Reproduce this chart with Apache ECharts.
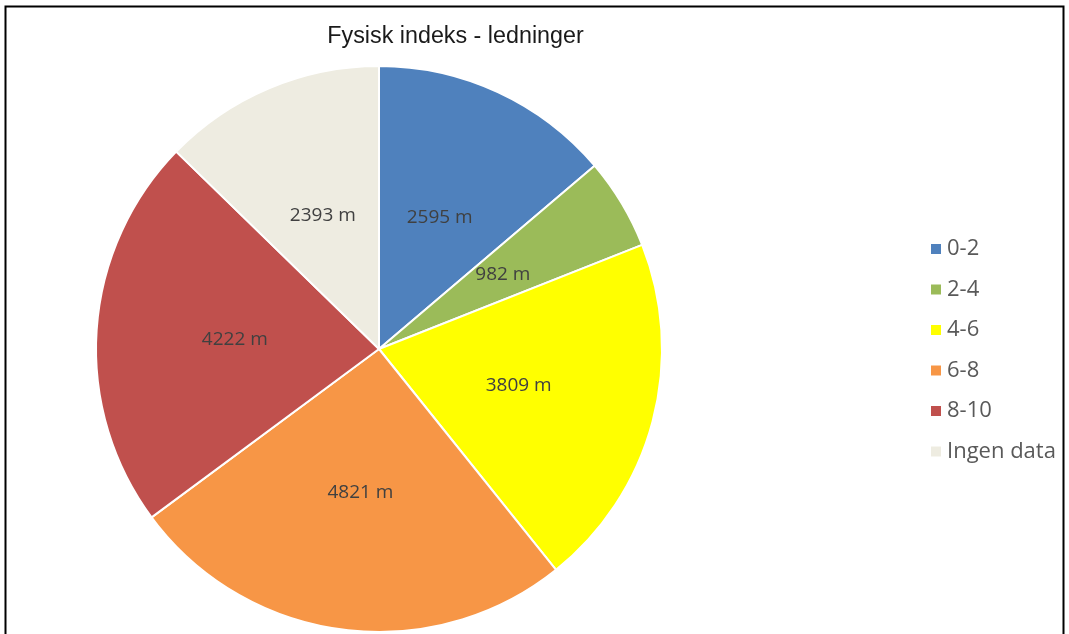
<!DOCTYPE html>
<html>
<head>
<meta charset="utf-8">
<script src="https://cdn.jsdelivr.net/npm/echarts@6/dist/echarts.min.js"></script>
<style>
  html, body { margin: 0; padding: 0; background: #fff; }
  #chart { width: 1069px; height: 634px; }
</style>
</head>
<body>
<div id="chart"></div>
<script>
const categories = ['0-2', '2-4', '4-6', '6-8', '8-10', 'Ingen data'];
const values = [2595, 982, 3809, 4821, 4222, 2393];
const colors = ['#4F81BD', '#9BBB59', '#FFFF00', '#F79646', '#C0504D', '#EEECE1'];
const titleText = 'Fysisk indeks - ledninger';

const chart = echarts.init(document.getElementById('chart'), null, { renderer: 'canvas' });
chart.setOption({
  animation: false,
  backgroundColor: '#fff',
  title: {
    text: titleText,
    left: 450.5,
    textAlign: 'center',
    top: 20,
    textStyle: { fontFamily: 'Liberation Sans, Arial, sans-serif', fontSize: 23.3, fontWeight: 'normal', color: '#1a1a1a' }
  },
  legend: {
    orient: 'vertical',
    left: 924,
    top: 233,
    itemWidth: 12,
    itemHeight: 12,
    itemGap: 18.5,
    icon: 'rect',
    data: categories,
    textStyle: { fontFamily: 'Open Sans, Noto Sans, sans-serif', fontSize: 22, color: '#595959', padding: [0, 0, 0, 0] }
  },
  graphic: [{
    type: 'rect',
    shape: { x: 5.5, y: 6.5, width: 1058, height: 700 },
    style: { fill: 'none', stroke: '#000', lineWidth: 2 },
    silent: true,
    z: 100
  }],
  series: [{
    type: 'pie',
    center: [379, 349],
    radius: [0, 283],
    startAngle: 90,
    clockwise: true,
    label: {
      show: true,
      position: 'inside',
      formatter: p => p.value + ' m',
      fontFamily: 'Open Sans, Noto Sans, sans-serif',
      fontSize: 19,
      color: '#404040'
    },
    labelLine: { show: false },
    itemStyle: { borderColor: '#fff', borderWidth: 2 },
    emphasis: { disabled: true },
    data: categories.map((c, i) => ({ name: c, value: values[i], itemStyle: { color: colors[i] } }))
  }]
});
</script>
</body>
</html>
